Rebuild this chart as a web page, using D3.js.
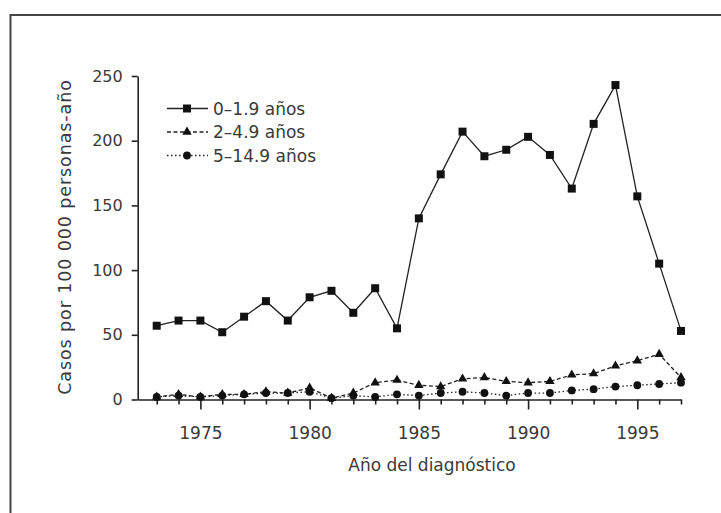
<!DOCTYPE html>
<html>
<head>
<meta charset="utf-8">
<script src="https://cdn.jsdelivr.net/npm/d3@7"></script>
<style>
  body { margin: 0; background: #fff; }
  svg { display: block; }
  text { font-family: "DejaVu Sans", sans-serif; fill: #3a3a3a; }
</style>
</head>
<body>
<svg width="721" height="513"></svg>
<script>

// data
var years = d3.range(1973, 1998);
var seriesNames = ["0\u20131.9 años", "2\u20134.9 años", "5\u201314.9 años"];
var age0 = [57, 61, 61, 52, 64, 76, 61, 79, 84, 67, 86, 55, 140, 174, 207, 188, 193, 203, 189, 163, 213, 243, 157, 105, 53];
var age2 = [2, 4, 2, 4, 4, 6, 5, 9, 1, 5, 13, 15, 11, 10, 16, 17, 14, 13, 14, 19, 20, 26, 30, 35, 17];
var age5 = [2, 3, 2, 3, 4, 5, 5, 6, 1, 3, 2, 4, 3, 5, 6, 5, 3, 5, 5, 7, 8, 10, 11, 12, 13];
var yTicks = [0, 50, 100, 150, 200, 250];
var xLabels = [1975, 1980, 1985, 1990, 1995];

var svg = d3.select("svg"),
    width = +svg.attr("width"),
    height = +svg.attr("height");

var ink = "#222";

// outer frame (only left and top edges show)
svg.append("path")
    .attr("d", "M10.5," + height + "V15H" + width)
    .attr("fill", "none")
    .attr("stroke", "#444")
    .attr("stroke-width", 2);

var x = d3.scaleLinear().domain([1972.13, 1997]).range([137.7, 681]);
var y = d3.scaleLinear().domain([0, 250]).range([399.5, 76]);

// y axis
var yAxis = svg.append("g")
    .attr("transform", "translate(137.7,0)")
    .call(d3.axisLeft(y).tickValues(yTicks).tickSize(6).tickSizeOuter(0).tickPadding(9));
yAxis.selectAll("text").attr("font-size", 16).attr("font-family", null).attr("fill", "#3a3a3a");

// x axis, one tick per year, long ticks and labels every 5
var xAxis = svg.append("g")
    .attr("transform", "translate(0,399.5)")
    .call(d3.axisBottom(x).tickValues(years).tickSize(5).tickSizeOuter(0).tickPadding(22)
      .tickFormat(function(d) { return d % 5 == 0 ? d : ""; }));
xAxis.selectAll(".tick line").filter(function(d) { return d % 5 == 0; }).attr("y2", 10);
xAxis.selectAll("text").attr("font-size", 17).attr("font-family", null).attr("fill", "#3a3a3a");

svg.selectAll(".domain, .tick line").attr("stroke", ink).attr("stroke-width", 1.6);

// axis titles
svg.append("text")
    .attr("x", 432).attr("y", 471)
    .attr("text-anchor", "middle")
    .attr("font-size", 17)
    .text("Año del diagnóstico");

svg.append("text")
    .attr("transform", "translate(65,237) rotate(-90)")
    .attr("text-anchor", "middle")
    .attr("dominant-baseline", "central")
    .attr("font-size", 17.5)
    .attr("letter-spacing", 0.9)
    .text("Casos por 100 000 personas-año");

var series = [
  { name: seriesNames[0], values: age0, dash: null, symbol: d3.symbolSquare, size: 64 },
  { name: seriesNames[1], values: age2, dash: "4,2.5", symbol: d3.symbolTriangle, size: 38 },
  { name: seriesNames[2], values: age5, dash: "1.5,2.5", symbol: d3.symbolCircle, size: 48 }
];

var line = d3.line()
    .x(function(d, i) { return x(years[i]); })
    .y(function(d) { return y(d); });

// draw bottom series first so the squares sit on top
series.slice().reverse().forEach(function(s) {
  var g = svg.append("g");
  g.append("path")
      .attr("d", line(s.values))
      .attr("fill", "none")
      .attr("stroke", ink)
      .attr("stroke-width", 1.3)
      .attr("stroke-dasharray", s.dash);
  g.selectAll("path.pt")
      .data(s.values)
      .enter().append("path")
      .attr("class", "pt")
      .attr("transform", function(d, i) { return "translate(" + x(years[i]) + "," + y(d) + ")"; })
      .attr("d", d3.symbol().type(s.symbol).size(s.size))
      .attr("fill", "#111");
});

// legend
var legend = svg.append("g");
series.forEach(function(s, i) {
  var ly = 108.5 + i * 23.5;
  legend.append("line")
      .attr("x1", 167).attr("x2", 208)
      .attr("y1", ly).attr("y2", ly)
      .attr("stroke", ink)
      .attr("stroke-width", 1.3)
      .attr("stroke-dasharray", s.dash);
  legend.append("path")
      .attr("transform", "translate(187," + ly + ")")
      .attr("d", d3.symbol().type(s.symbol).size(s.size))
      .attr("fill", "#111");
  legend.append("text")
      .attr("x", 213).attr("y", ly)
      .attr("dominant-baseline", "central")
      .attr("font-size", 17)
      .text(s.name);
});

</script>
</body>
</html>
